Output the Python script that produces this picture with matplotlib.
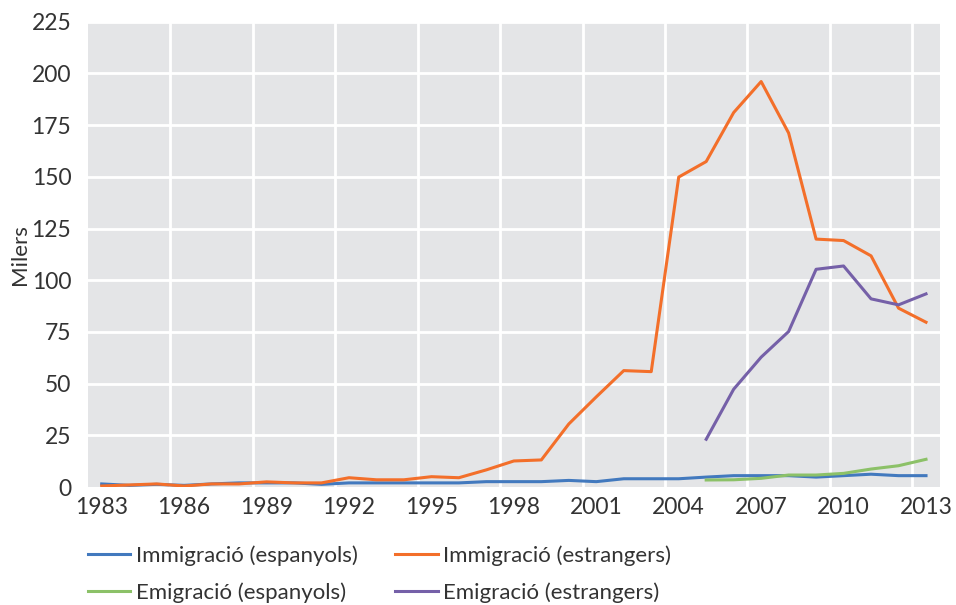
import numpy as np
import matplotlib.pyplot as plt

years = list(range(1983, 2014))
years_emig = list(range(2005, 2014))

immig_esp = [1.5, 0.8, 1.3, 0.8, 1.5, 2.0, 2.0, 2.0, 1.3, 2.0, 2.0, 2.0, 2.0, 2.0, 2.6, 2.6,
             2.6, 3.2, 2.6, 4.0, 4.0, 4.0, 4.8, 5.5, 5.5, 5.5, 4.8, 5.5, 6.2, 5.5, 5.5]
immig_estr = [0.5, 1.0, 1.5, 0.5, 1.5, 1.5, 2.5, 2.0, 2.0, 4.5, 3.5, 3.5, 5.0, 4.5, 8.3, 12.6,
              13.1, 30.5, 43.6, 56.3, 55.8, 149.9, 157.4, 181.1, 196.1, 171.2, 119.9, 119.2,
              111.8, 86.5, 79.7]
emig_esp = [3.4, 3.5, 4.2, 5.8, 5.8, 6.6, 8.7, 10.3, 13.4]
emig_estr = [23.1, 47.3, 62.8, 75.2, 105.3, 106.9, 91.0, 88.1, 93.4]

labels = ["Immigració (espanyols)", "Immigració (estrangers)",
          "Emigració (espanyols)", "Emigració (estrangers)"]
colors = ["#4279BE", "#F36F2A", "#8CC168", "#7560A8"]

plt.rcParams['font.family'] = ['Lato', 'DejaVu Sans']

fig = plt.figure(figsize=(9.56, 6.05), dpi=100)
ax = fig.add_axes([0.092, 0.195, 0.891, 0.769])
ax.set_facecolor("#E4E5E7")

lines = []
lines += ax.plot(years, immig_esp, color=colors[0], lw=2.2)
lines += ax.plot(years, immig_estr, color=colors[1], lw=2.2)
lines += ax.plot(years_emig, emig_esp, color=colors[2], lw=2.2)
lines += ax.plot(years_emig, emig_estr, color=colors[3], lw=2.2)

ax.set_xlim(1982.5, 2013.5)
ax.set_ylim(0, 225)
ax.set_yticks(np.arange(0, 226, 25))
ax.set_xticks(years[::3])
ax.grid(False)
for y in np.arange(25, 226, 25):
    ax.axhline(y, color="white", lw=2, zorder=1)
for x in np.arange(1985.5, 2013, 3):
    ax.axvline(x, color="white", lw=2, zorder=1)
for s in ax.spines.values():
    s.set_visible(False)
ax.tick_params(which="both", length=0, labelsize=16.5, colors="#333333")
ax.tick_params(axis="x", pad=7)
ax.tick_params(axis="y", pad=12)
ax.set_ylabel("Milers", fontsize=16, color="#333333", labelpad=1)

# legend filled row by row like the original
order = [0, 2, 1, 3]
fig.legend([lines[i] for i in order], [labels[i] for i in order],
           loc="upper left", bbox_to_anchor=(0.092, 0.099), ncol=2,
           frameon=False, fontsize=16, handlelength=1.9, handletextpad=0.25,
           columnspacing=1.7, labelspacing=0.75, borderaxespad=0, borderpad=0,
           labelcolor="#333333")

fig.savefig("out.png", dpi=100)
